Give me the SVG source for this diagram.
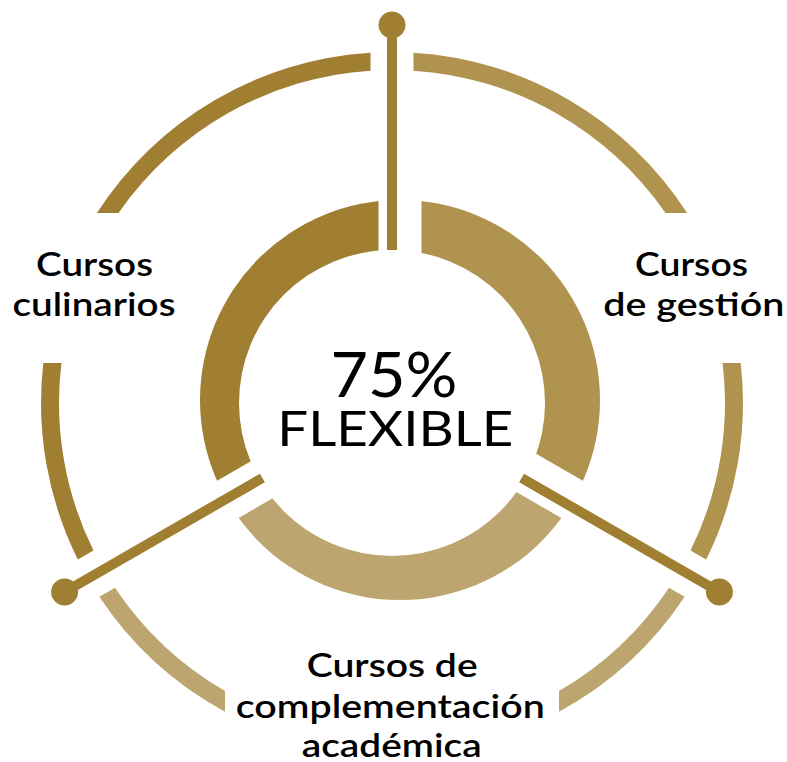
<svg xmlns="http://www.w3.org/2000/svg" width="787" height="762" viewBox="0 0 787 762">
<defs>
<style>
.dark{fill:#A07F32}
.mid{fill:#B0934E}
.light{fill:#BDA56F}
.spoke{stroke:#A07F32;stroke-width:10;stroke-linecap:butt;fill:none}
.dot{fill:#A07F32}
.lbl{font-family:Lato,"Liberation Sans",sans-serif;font-size:32px;font-weight:600;fill:#000;text-anchor:middle}
.big{font-family:Lato,"Liberation Sans",sans-serif;fill:#000;text-anchor:middle;font-weight:400}
</style>
<clipPath id="cL"><polygon points="378.5,387.6 378.5,-50 -50,-50 -43.75,631.4"/></clipPath>
<clipPath id="cR"><polygon points="421.5,387.6 421.5,-50 850,-50 843.75,631.4"/></clipPath>
<clipPath id="cB"><polygon points="400,424.8 -22.25,668.6 -22.25,800 822.25,800 822.25,668.6"/></clipPath>
<path id="donut" fill-rule="evenodd" d="M200,400 A200,200 0 1,0 600,400 A200,200 0 1,0 200,400 Z M239,403 A153,153 0 1,0 545,403 A153,153 0 1,0 239,403 Z"/>
</defs>
<rect width="787" height="762" fill="#fff"/>
<g id="inner-ring">
<use href="#donut" class="dark" clip-path="url(#cL)"/>
<use href="#donut" class="mid" clip-path="url(#cR)"/>
<use href="#donut" class="light" clip-path="url(#cB)"/>
</g>
<g id="outer-ring">
<path class="dark" d="M370.5,52.66 A351,351 0 0,0 96.87,213 L118.52,213 A333,333 0 0,1 370.5,70.7 Z"/>
<path class="mid" d="M413.5,52.66 A351,351 0 0,1 687.13,213 L665.48,213 A333,333 0 0,0 413.5,70.7 Z"/>
<path class="dark" d="M43.29,363 A351,351 0 0,0 77.86,559.55 L93.48,550.53 A333,333 0 0,1 61.41,363 Z"/>
<path class="mid" d="M740.71,363 A351,351 0 0,1 706.14,559.55 L690.52,550.53 A333,333 0 0,0 722.59,363 Z"/>
<path class="light" d="M99.36,596.79 A351,351 0 0,0 225,711.73 L225,691.1 A333,333 0 0,1 114.98,587.77 Z"/>
<path class="light" d="M684.64,596.79 A351,351 0 0,1 559,711.73 L559,691.1 A333,333 0 0,0 669.02,587.77 Z"/>
</g>
<g id="connectors">
<line class="spoke" x1="392" y1="250" x2="392" y2="25"/>
<line class="spoke" x1="262.4" y1="478" x2="64.6" y2="592"/>
<line class="spoke" x1="521.6" y1="478" x2="719.4" y2="592"/>
<circle class="dot" cx="392" cy="25" r="13.5"/>
<circle class="dot" cx="64.6" cy="592" r="13.5"/>
<circle class="dot" cx="719.4" cy="592" r="13.5"/>
</g>
<g id="center-label">
<text class="big" x="394" y="397" font-size="61" textLength="127" lengthAdjust="spacingAndGlyphs">75%</text>
<text class="big" x="395.3" y="446" font-size="48" textLength="236" lengthAdjust="spacingAndGlyphs">FLEXIBLE</text>
</g>
<g id="label-culinarios">
<text class="lbl" x="94.5" y="276" textLength="117" lengthAdjust="spacingAndGlyphs">Cursos</text>
<text class="lbl" x="94" y="316" textLength="163" lengthAdjust="spacingAndGlyphs">culinarios</text>
</g>
<g id="label-gestion">
<text class="lbl" x="691.5" y="276" textLength="113" lengthAdjust="spacingAndGlyphs">Cursos</text>
<text class="lbl" x="693.8" y="316" textLength="181" lengthAdjust="spacingAndGlyphs">de gestión</text>
</g>
<g id="label-academica">
<text class="lbl" x="392.2" y="677" textLength="171" lengthAdjust="spacingAndGlyphs">Cursos de</text>
<text class="lbl" x="390.3" y="718" textLength="309" lengthAdjust="spacingAndGlyphs">complementación</text>
<text class="lbl" x="391.7" y="757" textLength="180" lengthAdjust="spacingAndGlyphs">académica</text>
</g>
</svg>
